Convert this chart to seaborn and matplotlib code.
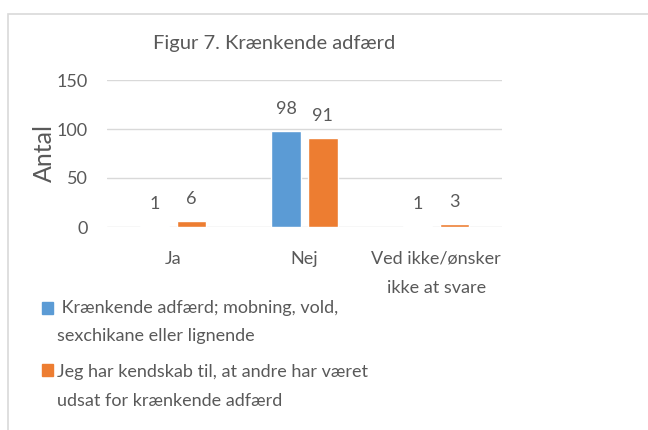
import numpy as np
import pandas as pd
import matplotlib.pyplot as plt
import seaborn as sns
from matplotlib.patches import Rectangle

# Data
categories = ['Ja', 'Nej', 'Ved ikke/ønsker\nikke at svare']
series_names = [' Krænkende adfærd; mobning, vold,\nsexchikane eller lignende',
                'Jeg har kendskab til, at andre har været\nudsat for krænkende adfærd']
values_a = [1, 98, 1]
values_b = [6, 91, 3]
colors = ['#5B9BD5', '#ED7D31']

df = pd.DataFrame({
    'Kategori': categories * 2,
    'Serie': [series_names[0]] * 3 + [series_names[1]] * 3,
    'Antal': values_a + values_b,
})

sns.set_theme(style='white')
plt.rcParams['font.family'] = ['Lato', 'DejaVu Sans']
txt = '#595959'

fig = plt.figure(figsize=(6.48, 4.30), dpi=100)
ax = fig.add_axes([107/648, 1-227/430, 395/648, 147/430])

sns.barplot(data=df, x='Kategori', y='Antal', hue='Serie', palette=colors,
            width=0.56, gap=0.2, ax=ax, legend=False, saturation=1)

for c in ax.containers:
    ax.bar_label(c, padding=10, fontsize=13, color=txt)

ax.set_ylim(0, 150)
ax.set_yticks([0, 50, 100, 150])
ax.set_xlim(-0.5, 2.5)
ax.set_xticks(range(len(categories)), categories, linespacing=2.05)
ax.yaxis.grid(True, color='#D9D9D9', linewidth=1)
ax.set_axisbelow(True)
for s in ax.spines.values():
    s.set_visible(False)
ax.tick_params(axis='x', length=0, pad=17, labelsize=13, labelcolor=txt)
ax.tick_params(axis='y', length=0, pad=14, labelsize=13, labelcolor=txt)
ax.set_xlabel('')
ax.set_ylabel('Antal', fontsize=18, color=txt, labelpad=0)
fig.text(274/648, 1-44/430, 'Figur 7. Krænkende adfærd', ha='center', va='center',
         fontsize=14.5, color=txt)

# legend drawn by hand: square beside first line of each wrapped label
legend_y = [322, 386]
square_y = [308, 370]
for name, col, ly, sy in zip(series_names, colors, legend_y, square_y):
    fig.patches.append(Rectangle((42/648, 1-(sy+6)/430), 11/648, 12/430,
                                 transform=fig.transFigure, color=col))
    fig.text(57/648, 1-ly/430, name, ha='left', va='center', fontsize=13,
             color=txt, linespacing=2.0)

fig.patches.append(Rectangle((8/648, -0.1), 1.1, 1.1 - 14/430, transform=fig.transFigure,
                             fill=False, edgecolor='#D9D9D9', linewidth=1.2))

fig.savefig('out.png', dpi=100)
